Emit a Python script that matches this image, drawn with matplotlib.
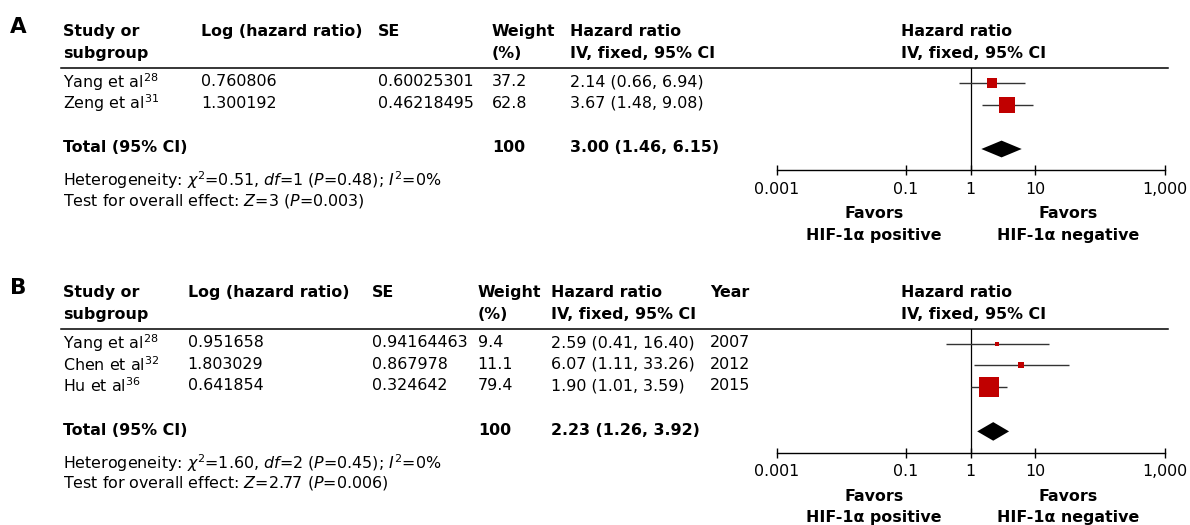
import numpy as np
import matplotlib
matplotlib.use("Agg")
import matplotlib.pyplot as plt

plt.rcParams['font.family'] = ['DejaVu Sans']
plt.rcParams['mathtext.fontset'] = 'dejavusans'

# ---- data, panel A ----
a_study = [r"Yang et al$^{28}$", r"Zeng et al$^{31}$"]
a_loghr = ["0.760806", "1.300192"]
a_se = ["0.60025301", "0.46218495"]
a_weight = [37.2, 62.8]
a_hr = [2.14, 3.67]
a_lo = [0.66, 1.48]
a_hi = [6.94, 9.08]
a_total = (3.00, 1.46, 6.15)
a_het = r"Heterogeneity: $\chi^2$=0.51, $df$=1 ($P$=0.48); $I^2$=0%"
a_test = r"Test for overall effect: $Z$=3 ($P$=0.003)"

# ---- data, panel B ----
b_study = [r"Yang et al$^{28}$", r"Chen et al$^{32}$", r"Hu et al$^{36}$"]
b_loghr = ["0.951658", "1.803029", "0.641854"]
b_se = ["0.94164463", "0.867978", "0.324642"]
b_weight = [9.4, 11.1, 79.4]
b_hr = [2.59, 6.07, 1.90]
b_lo = [0.41, 1.11, 1.01]
b_hi = [16.40, 33.26, 3.59]
b_year = ["2007", "2012", "2015"]
b_total = (2.23, 1.26, 3.92)
b_het = r"Heterogeneity: $\chi^2$=1.60, $df$=2 ($P$=0.45); $I^2$=0%"
b_test = r"Test for overall effect: $Z$=2.77 ($P$=0.006)"

tick_vals = [0.001, 0.1, 1, 10, 1000]
tick_labels = ["0.001", "0.1", "1", "10", "1,000"]

W, H = 1190, 525
FS = 11.4
RED = "#C00000"

fig = plt.figure(figsize=(W / 100, H / 100), dpi=100)
bg = fig.add_axes([0, 0, 1, 1])
bg.set_xlim(0, W)
bg.set_ylim(H, 0)
bg.axis("off")

AX_L, AX_R = 776.7, 1164.7


def fmt_ci(h, l, u):
    return f"{h:.2f} ({l:.2f}, {u:.2f})"


def panel(letter, top, study, loghr, se, weight, hr, lo, hi, total, het, test,
          cols, year=None, pitch=21.3, dh=8.5):
    # top = y of header first line (pixels from top)
    h1, h2 = top, top + 21.6
    rule = top + 36
    rows = [rule + 14 + i * pitch for i in range(len(study))]
    total_y = rows[-1] + 44.5
    axis_y = total_y + 22.2
    het_y = total_y + 32.3

    bg.text(10, top - 4.5, letter, fontsize=15.5, fontweight="bold", va="center")
    xs, xl, xse, xw, xhr = cols[:5]
    bold = dict(fontsize=FS, fontweight="bold", va="center")
    norm = dict(fontsize=FS, va="center")
    bg.text(xs, h1, "Study or", **bold)
    bg.text(xs, h2, "subgroup", **bold)
    bg.text(xl, h1, "Log (hazard ratio)", **bold)
    bg.text(xse, h1, "SE", **bold)
    bg.text(xw, h1, "Weight", **bold)
    bg.text(xw, h2, "(%)", **bold)
    bg.text(xhr, h1, "Hazard ratio", **bold)
    bg.text(xhr, h2, "IV, fixed, 95% CI", **bold)
    if year is not None:
        bg.text(cols[5], h1, "Year", **bold)
    bg.text(901, h1, "Hazard ratio", **bold)
    bg.text(901, h2, "IV, fixed, 95% CI", **bold)
    bg.plot([60.7, 1168], [rule, rule], color="black", lw=1.1)

    for i, y in enumerate(rows):
        bg.text(xs, y, study[i], **norm)
        bg.text(xl, y, loghr[i], **norm)
        bg.text(xse, y, se[i], **norm)
        bg.text(xw, y, f"{weight[i]:.1f}", **norm)
        bg.text(xhr, y, fmt_ci(hr[i], lo[i], hi[i]), **norm)
        if year is not None:
            bg.text(cols[5], y, year[i], **norm)
    bg.text(xs, total_y, "Total (95% CI)", **bold)
    bg.text(xw, total_y, "100", **bold)
    bg.text(xhr, total_y, fmt_ci(*total), **bold)
    bg.text(xs, het_y, het, **norm)
    bg.text(xs, het_y + 20.8, test, **norm)

    # forest axes, y in pixel units
    ax = fig.add_axes([AX_L / W, (H - axis_y) / H, (AX_R - AX_L) / W, (axis_y - rule) / H])
    ax.set_xscale("log")
    ax.set_xlim(tick_vals[0], tick_vals[-1])
    ax.set_ylim(axis_y, rule)
    ax.patch.set_alpha(0)
    for s in ("top", "left", "right"):
        ax.spines[s].set_visible(False)
    ax.spines["bottom"].set_linewidth(1.0)
    ax.set_yticks([])
    ax.set_xticks(tick_vals)
    ax.set_xticklabels(tick_labels)
    ax.minorticks_off()
    ax.tick_params(axis="x", direction="inout", length=7.2, width=1.0,
                   labelsize=FS, pad=4.8)
    ax.axvline(1, color="black", lw=0.9)

    for i, y in enumerate(rows):
        ax.hlines(y + 1, lo[i], hi[i], color="#333333", lw=1.0)
        side = 3 + 0.21 * weight[i]
        ax.plot(hr[i], y + 1, marker="s", ms=side * 0.72, color=RED,
                mec=RED, mew=0)
    est, tl, th = total
    yc = total_y + 1
    ax.fill([tl, est, th, est], [yc, yc - dh, yc, yc + dh], color="black", lw=0)

    bg.text(874, axis_y + 43.7, "Favors", ha="center", **bold)
    bg.text(874, axis_y + 65.3, "HIF-1\u03b1 positive", ha="center", **bold)
    bg.text(1067.7, axis_y + 43.7, "Favors", ha="center", **bold)
    bg.text(1067.7, axis_y + 65.3, "HIF-1\u03b1 negative", ha="center", **bold)


panel("A", 31.7, a_study, a_loghr, a_se, a_weight, a_hr, a_lo, a_hi, a_total,
      a_het, a_test, [62.7, 201, 378, 491.7, 570], pitch=21.8, dh=8.4)
panel("B", 292.7, b_study, b_loghr, b_se, b_weight, b_hr, b_lo, b_hi, b_total,
      b_het, b_test, [62.7, 187.7, 372, 477.7, 550.7, 710], year=b_year,
      pitch=21.6, dh=9.3)

fig.savefig("out.png", dpi=100)
